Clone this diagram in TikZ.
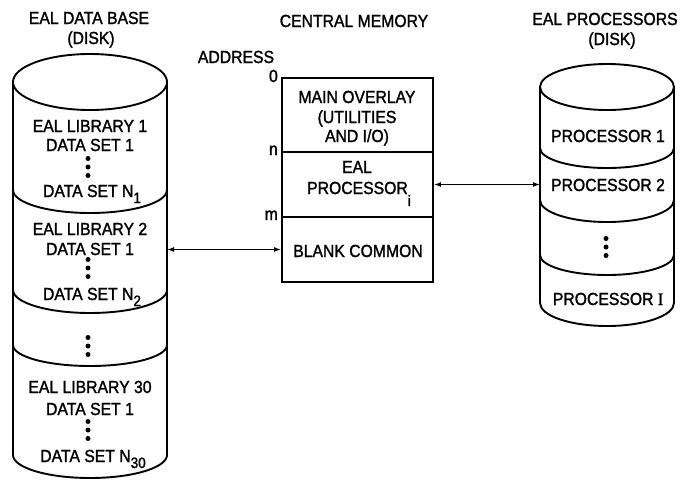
\documentclass[tikz,border=0pt]{standalone}
\usepackage{fontspec}
\setmainfont{Liberation Sans}[FakeBold=1.5,FakeStretch=0.9]
\newfontfamily\serifI{Liberation Serif}[FakeBold=1.5,FakeStretch=0.9]
\usetikzlibrary{arrows.meta}
\newcommand\mysub[1]{\raisebox{-6pt}{\fontsize{15}{15}\selectfont #1}}
\tikzset{
  x=1pt, y=1pt,
  lbl/.style={anchor=base, font=\fontsize{17.5}{20}\selectfont, inner sep=0pt},
  cyl/.style={line width=1.9pt},
  conn/.style={line width=1.3pt, {Latex[length=7pt,width=5pt]}-{Latex[length=7pt,width=5pt]}},
  memcell/.style={draw, line width=1.9pt, minimum width=151pt, inner sep=0pt},
  vdts/.pic={\foreach \d in {-8.5,0,8.5} \fill (0,\d) circle (2.5pt);}
}
\begin{document}
\begin{tikzpicture}
\useasboundingbox (0,0) rectangle (681,-482);

% ---------- left cylinder ----------
\draw[cyl] (90,-82) ellipse [x radius=77, y radius=28];
\draw[cyl] (13,-82) -- (13,-455) arc[start angle=180, end angle=360, x radius=77, y radius=23] -- (167,-82);
\draw[cyl] (13,-190) arc[start angle=180, end angle=360, x radius=77, y radius=23];
\draw[cyl] (13,-290) arc[start angle=180, end angle=360, x radius=77, y radius=23];
\draw[cyl] (13,-345) arc[start angle=180, end angle=360, x radius=77, y radius=21];

\node[lbl] (ttlL1) at (89,-24) {EAL DATA BASE};
\node[lbl] (ttlL2) at (91,-44) {(DISK)};

\node[lbl] (l1a) at (90,-132) {EAL LIBRARY 1};
\node[lbl] (l1b) at (90,-151) {DATA SET 1};
\pic at (88,-167) {vdts};
\node[lbl] (l1c) at (92,-197) {DATA SET N\mysub{1}};

\node[lbl] (l2a) at (90,-235) {EAL LIBRARY 2};
\node[lbl] (l2b) at (90,-255) {DATA SET 1};
\pic at (88,-268) {vdts};
\node[lbl] (l2c) at (92,-300) {DATA SET N\mysub{2}};

\pic at (88,-346) {vdts};

\node[lbl] (l3a) at (90,-393) {EAL LIBRARY 30};
\node[lbl] (l3b) at (90,-415) {DATA SET 1};
\pic at (88,-430) {vdts};
\node[lbl] (l3c) at (93,-462) {DATA SET N\mysub{30}};

\coordinate (lcylR) at (167,-249.5);

% ---------- central memory ----------
\node[lbl] (ttlM) at (354,-27) {CENTRAL MEMORY};
\node[lbl] (addr) at (236,-63) {ADDRESS};

\node[memcell, minimum height=74pt] (mo) at (357.5,-115) {};
\node[memcell, minimum height=65pt] (ep) at (357.5,-184.5) {};
\node[memcell, minimum height=65pt] (bc) at (357.5,-249.5) {};

\node[lbl, anchor=base east] (a0) at (278,-82) {0};
\node[lbl, anchor=base east] (an) at (278,-155) {n};
\node[lbl, anchor=base east] (am) at (278,-220) {m};

\node[lbl] (mo1) at (357,-103) {MAIN OVERLAY};
\node[lbl] (mo2) at (357,-123) {(UTILITIES};
\node[lbl] (mo3) at (357,-142) {AND I/O)};
\node[lbl] (ep1) at (357,-173) {EAL};
\node[lbl] (ep2) at (359,-194) {PROCESSOR\raisebox{-12pt}{\fontsize{15}{15}\selectfont i}};
\node[lbl] (bc1) at (358,-257) {BLANK COMMON};

% ---------- right cylinder ----------
\draw[cyl] (607,-87) ellipse [x radius=67, y radius=23];
\draw[cyl] (540,-87) -- (540,-303) arc[start angle=180, end angle=360, x radius=67, y radius=23] -- (674,-87);
\draw[cyl] (540,-148) arc[start angle=180, end angle=360, x radius=67, y radius=20];
\draw[cyl] (540,-200) arc[start angle=180, end angle=360, x radius=67, y radius=22];
\draw[cyl] (540,-255) arc[start angle=180, end angle=360, x radius=67, y radius=20];

\node[lbl] (ttlR1) at (605,-25) {EAL PROCESSORS};
\node[lbl] (ttlR2) at (612,-45) {(DISK)};

\node[lbl] (p1) at (608,-142) {PROCESSOR 1};
\node[lbl] (p2) at (608,-191) {PROCESSOR 2};
\pic at (606,-247) {vdts};
\node[lbl] (pI) at (608,-305) {PROCESSOR {\serifI I}};

\coordinate (rcylL) at (540,-184.5);

% ---------- connectors ----------
\draw[conn] (bc.west) -- (lcylR);
\draw[conn] (ep.east) -- (rcylL);
\end{tikzpicture}
\end{document}
